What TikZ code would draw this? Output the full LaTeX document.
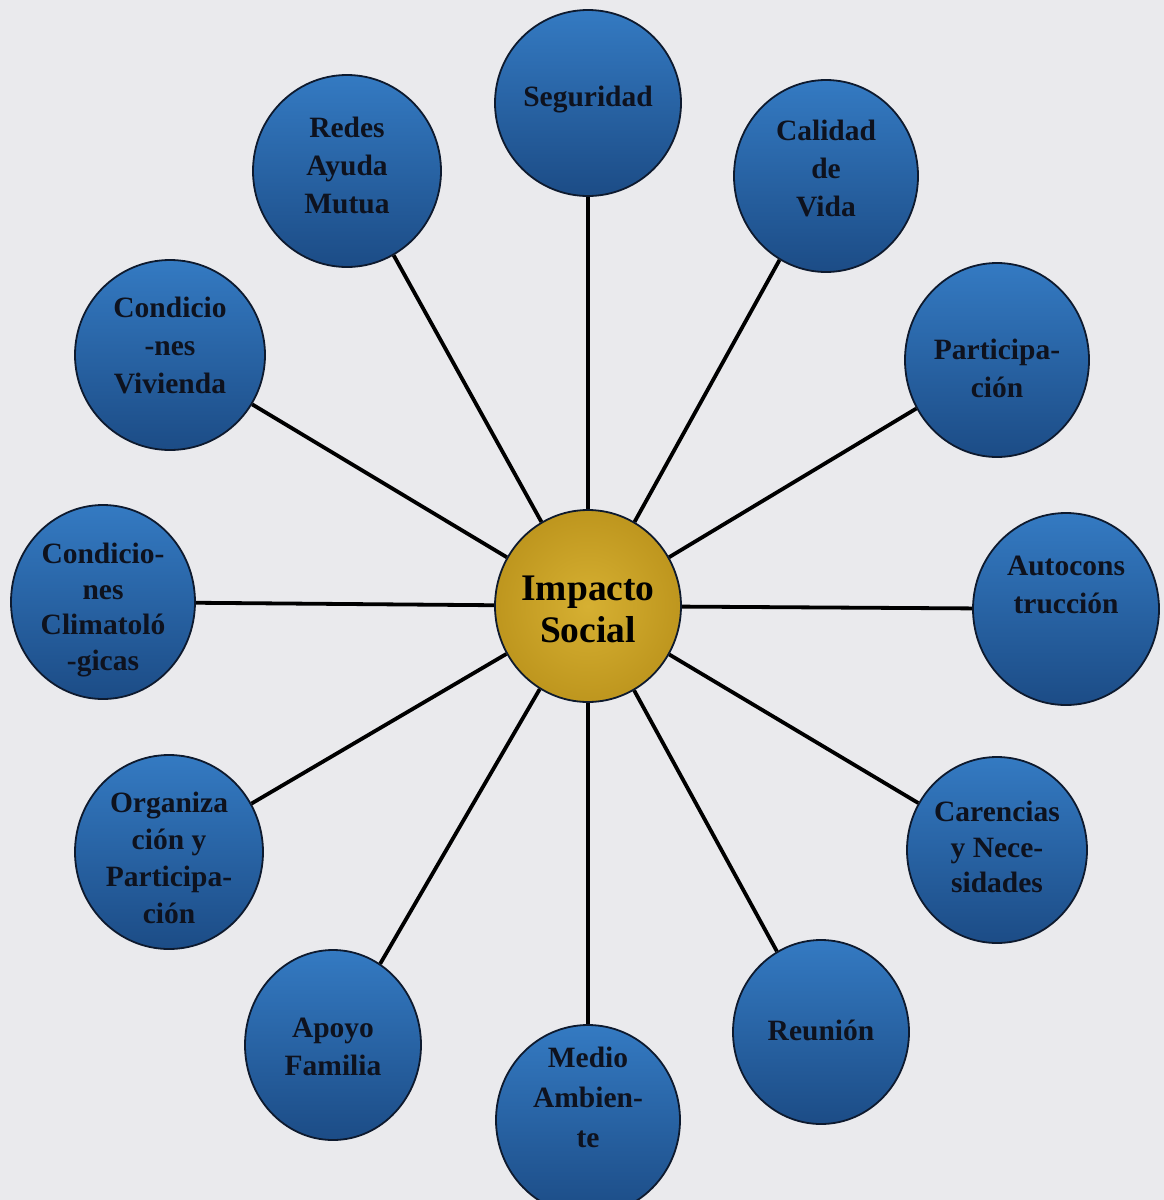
\documentclass[tikz,border=0pt]{standalone}
\usepackage{fontspec}
\setmainfont{Liberation Serif}
\usetikzlibrary{shapes.geometric}
\definecolor{bgc}{RGB}{234,234,237}
\definecolor{blueT}{RGB}{52,122,194}
\definecolor{blueB}{RGB}{28,76,134}
\definecolor{rimc}{RGB}{14,26,46}
\definecolor{txtc}{RGB}{14,18,30}
\definecolor{goldI}{RGB}{214,176,50}
\definecolor{goldO}{RGB}{190,150,30}
\begin{document}
\begin{tikzpicture}[x=1pt,y=-1pt,
  bub/.style={ellipse, draw=rimc, line width=1.8pt, top color=blueT, bottom color=blueB, inner sep=0pt},
  lbl/.style={font=\bfseries\fontsize{29.5}{38}\selectfont, text=txtc, align=center, inner sep=0pt},
  tight/.style={font=\bfseries\fontsize{29.5}{35.5}\selectfont},
  spoke/.style={line width=3.8pt, black}]
\fill[bgc] (0,0) rectangle (1164,1200);
\useasboundingbox (0,0) rectangle (1164,1200);

% centre
\node[ellipse, draw=rimc, line width=1.8pt, inner color=goldI, outer color=goldO,
      minimum width=186pt, minimum height=192pt, inner sep=0pt] (imp) at (588,606) {};
\node[lbl, font=\bfseries\fontsize{37.5}{42}\selectfont, text=black] (impT) at (588,609) {Impacto\\Social};

% outer bubbles
\node[bub, minimum width=186pt, minimum height=186pt] (seg) at (588,103) {};
\node[bub, minimum width=184pt, minimum height=192pt] (cal) at (826,176) {};
\node[bub, minimum width=188pt, minimum height=192pt] (red) at (347,171) {};
\node[bub, minimum width=190pt, minimum height=190pt] (viv) at (170,355) {};
\node[bub, minimum width=184pt, minimum height=194pt] (par) at (997,360) {};
\node[bub, minimum width=186pt, minimum height=192pt] (aut) at (1066,609) {};
\node[bub, minimum width=184pt, minimum height=194pt] (cli) at (103,602) {};
\node[bub, minimum width=188pt, minimum height=194pt] (org) at (169,852) {};
\node[bub, minimum width=180pt, minimum height=186pt] (car) at (997,850) {};
\node[bub, minimum width=176pt, minimum height=190pt] (apo) at (333,1045) {};
\node[bub, minimum width=184pt, minimum height=190pt] (med) at (588,1120) {};
\node[bub, minimum width=176pt, minimum height=184pt] (reu) at (821,1032) {};

% labels
\node[lbl] (segT) at (588,100) {Seguridad};
\node[lbl] (calT) at (826,168) {Calidad\\de\\Vida};
\node[lbl] (redT) at (347,165) {Redes\\Ayuda\\Mutua};
\node[lbl] (vivT) at (170,345) {Condicio\\-nes\\Vivienda};
\node[lbl] (parT) at (997,368) {Participa-\\ción};
\node[lbl] (autT) at (1066,585) {Autocons\\trucción};
\node[lbl, tight] (cliT) at (103,610) {Condicio-\\nes\\Climatoló\\-gicas};
\node[lbl, font=\bfseries\fontsize{29.5}{37}\selectfont] (orgT) at (169,858) {Organiza\\ción y\\Participa-\\ción};
\node[lbl, tight] (carT) at (997,847) {Carencias\\y Nece-\\sidades};
\node[lbl] (apoT) at (333,1047) {Apoyo\\Familia};
\node[lbl, font=\bfseries\fontsize{29.5}{40}\selectfont] (medT) at (588,1097) {Medio\\Ambien-\\te};
\node[lbl] (reuT) at (821,1030) {Reunión};

% spokes
\foreach \n in {seg,cal,red,viv,par,aut,cli,org,car,apo,med,reu}
  \draw[spoke] (imp) -- (\n);
\end{tikzpicture}
\end{document}
